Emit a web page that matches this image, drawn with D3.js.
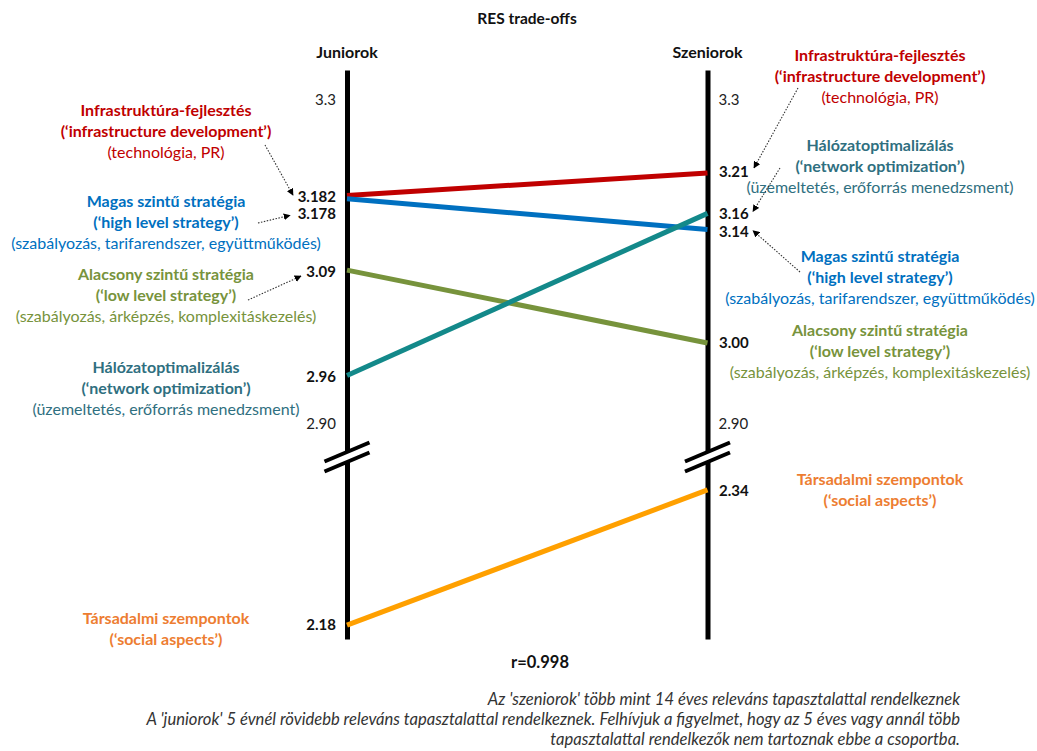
<!DOCTYPE html>
<html>
<head>
<meta charset="utf-8">
<script src="https://cdn.jsdelivr.net/npm/d3@7/dist/d3.min.js"></script>
<style>
  html, body { margin: 0; padding: 0; background: #fff; }
  svg { display: block; font-family: Lato, "Open Sans", sans-serif; }
</style>
</head>
<body>
<svg id="chart" width="1037" height="751"></svg>
<script>
// ---------------- DATA ----------------
const chartTitle = "RES trade-offs";
const groups = ["Juniorok", "Szeniorok"];
const categories = ["Infrastruktúra-fejlesztés", "Magas szintű stratégia", "Alacsony szintű stratégia", "Hálózatoptimalizálás", "Társadalmi szempontok"];
const englishNames = ["(‘infrastructure development’)", "(‘high level strategy’)", "(‘low level strategy’)", "(‘network optimization’)", "(‘social aspects’)"];
const subtitles = ["(technológia, PR)", "(szabályozás, tarifarendszer, együttműködés)", "(szabályozás, árképzés, komplexitáskezelés)", "(üzemeltetés, erőforrás menedzsment)", ""];
const juniorValues = [3.182, 3.178, 3.09, 2.96, 2.18];
const seniorValues = [3.21, 3.14, 3.00, 3.16, 2.34];
const juniorLabels = ["3.182", "3.178", "3.09", "2.96", "2.18"];
const seniorLabels = ["3.21", "3.14", "3.00", "3.16", "2.34"];
const tickValues = [2.9, 3.3];
const tickLabels = ["2.90", "3.3"];
const correlationText = "r=0.998";
const notes = [
  "Az 'szeniorok' több mint 14 éves releváns tapasztalattal rendelkeznek",
  "A 'juniorok' 5 évnél rövidebb releváns tapasztalattal rendelkeznek. Felhívjuk a figyelmet, hogy az 5 éves vagy annál több",
  "tapasztalattal rendelkezők nem tartoznak ebbe a csoportba."
];
const lineColors = ["#C00000", "#0070C0", "#77933C", "#13898A", "#FFA000"];
const textColors = ["#C00000", "#0070C0", "#77933C", "#2F6F80", "#ED7D31"];

// ---------------- LAYOUT ----------------
const svg = d3.select("#chart");
const xJ = 347, xS = 707.5;
const axisTop = 70, axisBottom = 639, breakY = 457;

// upper (broken) scale and lower scale
const upper = d3.scaleLinear().domain([2.8593, 3.337]).range([breakY, axisTop]);
const lower = d3.scaleLinear().domain([2.1635, 2.379]).range([axisBottom, breakY]);
const yOf = v => v >= 2.8 ? upper(v) : lower(v);

// axes
function drawAxis(x, isLeft) {
  const gen = (isLeft ? d3.axisLeft(upper) : d3.axisRight(upper))
    .tickValues(tickValues)
    .tickFormat((d, i) => tickLabels[i])
    .tickSize(0).tickSizeOuter(0).tickPadding(11);
  const gU = svg.append("g").attr("transform", `translate(${x},0)`).call(gen);
  const genL = (isLeft ? d3.axisLeft(lower) : d3.axisRight(lower)).tickValues([]).tickSize(0).tickSizeOuter(0);
  const gL = svg.append("g").attr("transform", `translate(${x},0)`).call(genL);
  [gU, gL].forEach(g => {
    g.select(".domain").attr("stroke", "#000").attr("stroke-width", 5);
    g.selectAll("text").attr("font-family", "Lato, sans-serif").attr("font-size", 15).attr("fill", "#222");
  });
}
drawAxis(xJ, true);
drawAxis(xS, false);

// lines
categories.forEach((c, i) => {
  svg.append("line")
    .attr("x1", xJ).attr("y1", yOf(juniorValues[i]))
    .attr("x2", xS).attr("y2", yOf(seniorValues[i]))
    .attr("stroke", lineColors[i]).attr("stroke-width", 5);
});

// break marks
function drawBreak(x) {
  const dx = 22.5, dy = -9.5, off = 5;
  const g = svg.append("g");
  g.append("line").attr("x1", x - dx).attr("y1", breakY - dy).attr("x2", x + dx).attr("y2", breakY + dy)
    .attr("stroke", "#fff").attr("stroke-width", 7);
  [-off, off].forEach(o => {
    g.append("line").attr("x1", x - dx).attr("y1", breakY - dy + o).attr("x2", x + dx).attr("y2", breakY + dy + o)
      .attr("stroke", "#000").attr("stroke-width", 4);
  });
}
drawBreak(xJ);
drawBreak(xS);

// value labels
const jNudge = [1.5, 14.5, 1, 1.5, 0];
const sNudge = [-1, 2, 0, 0, 1];
categories.forEach((c, i) => {
  svg.append("text").attr("x", 336).attr("y", yOf(juniorValues[i]) + jNudge[i]).attr("dy", "0.36em")
    .attr("text-anchor", "end").attr("font-weight", 700).attr("font-size", 15).attr("fill", "#111")
    .text(juniorLabels[i]);
  svg.append("text").attr("x", 719).attr("y", yOf(seniorValues[i]) + sNudge[i]).attr("dy", "0.36em")
    .attr("text-anchor", "start").attr("font-weight", 700).attr("font-size", 15).attr("fill", "#111")
    .text(seniorLabels[i]);
});

// category label blocks
const leftBlocks = [110, 201, 274, 367, 618];
const rightBlocks = [55, 256, 330, 145, 479];
function drawBlock(cx, y0, i) {
  const lines = [categories[i], englishNames[i], subtitles[i]].filter(d => d);
  lines.forEach((t, k) => {
    svg.append("text").attr("x", cx).attr("y", y0 + k * 21).attr("dy", "0.36em")
      .attr("text-anchor", "middle")
      .attr("font-size", 16)
      .attr("font-weight", k < 2 ? 700 : 400)
      .attr("fill", textColors[i])
      .text(t);
  });
}
categories.forEach((c, i) => {
  drawBlock(166, leftBlocks[i], i);
  drawBlock(880, rightBlocks[i], i);
});

// arrows
svg.append("defs").append("marker")
  .attr("id", "ah").attr("viewBox", "0 0 10 10").attr("refX", 9).attr("refY", 5)
  .attr("markerWidth", 7).attr("markerHeight", 7).attr("markerUnits", "userSpaceOnUse").attr("orient", "auto")
  .append("path").attr("d", "M0,0 L10,5 L0,10 Z").attr("fill", "#000");
const arrowDefs = [
  { from: [265, leftBlocks[0] + 35], to: [293, yOf(juniorValues[0]) + jNudge[0] - 2] },
  { from: [258, leftBlocks[1] + 22], to: [290, yOf(juniorValues[1]) + jNudge[1] + 2] },
  { from: [248, leftBlocks[2] + 26], to: [301, yOf(juniorValues[2]) + 6] },
  { from: [798, rightBlocks[0] + 33], to: [754, yOf(seniorValues[0]) - 5] },
  { from: [780, rightBlocks[3] + 23], to: [753, yOf(seniorValues[3]) - 2] },
  { from: [800, rightBlocks[1] + 16], to: [753, yOf(seniorValues[1]) + 1] }
];
arrowDefs.forEach(a => {
  svg.append("line").attr("x1", a.from[0]).attr("y1", a.from[1]).attr("x2", a.to[0]).attr("y2", a.to[1])
    .attr("stroke", "#333").attr("stroke-width", 1.1).attr("stroke-dasharray", "1.5,1.5")
    .attr("marker-end", "url(#ah)");
});

// titles
svg.append("text").attr("x", 527).attr("y", 18).attr("dy", "0.36em").attr("text-anchor", "middle")
  .attr("font-weight", 700).attr("font-size", 15.5).attr("fill", "#111").text(chartTitle);
svg.append("text").attr("x", xJ).attr("y", 52).attr("dy", "0.36em").attr("text-anchor", "middle")
  .attr("font-weight", 700).attr("font-size", 16).attr("fill", "#111").text(groups[0]);
svg.append("text").attr("x", xS).attr("y", 52).attr("dy", "0.36em").attr("text-anchor", "middle")
  .attr("font-weight", 700).attr("font-size", 16).attr("fill", "#111").text(groups[1]);
svg.append("text").attr("x", 540).attr("y", 662).attr("dy", "0.36em").attr("text-anchor", "middle")
  .attr("font-weight", 700).attr("font-size", 16.5).attr("fill", "#111").text(correlationText);

// notes
notes.forEach((t, k) => {
  svg.append("text").attr("x", 960).attr("y", 699 + k * 20).attr("dy", "0.36em").attr("text-anchor", "end")
    .attr("font-style", "italic").attr("font-size", 16.6).attr("fill", "#333").text(t);
});
</script>
</body>
</html>
